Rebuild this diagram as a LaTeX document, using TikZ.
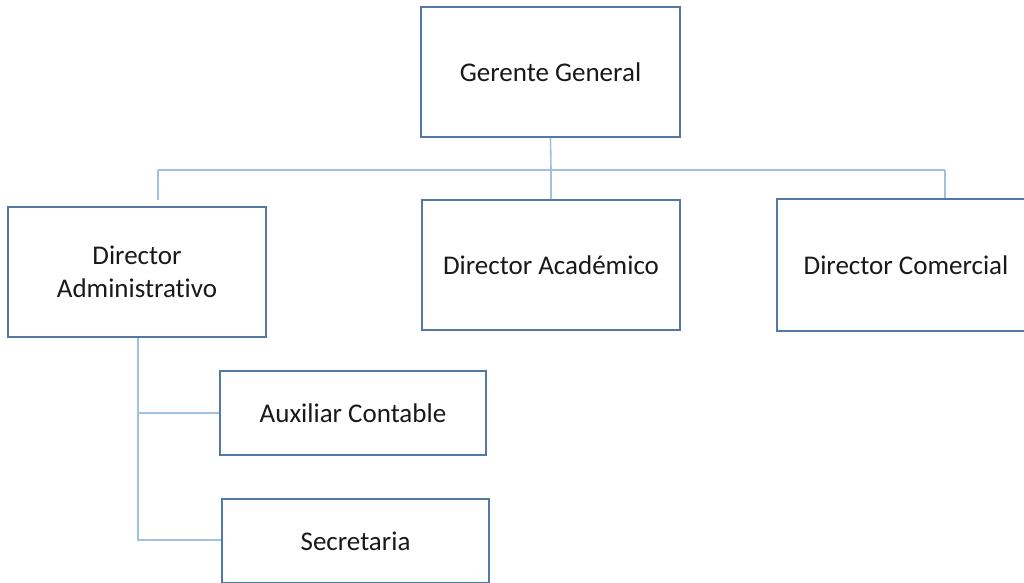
\documentclass[tikz,border=0pt]{standalone}
\usepackage{fontspec}
\setmainfont{Carlito}[Ligatures={NoCommon}]
\definecolor{boxline}{RGB}{84,120,166}
\definecolor{conn}{RGB}{160,192,228}
\definecolor{txt}{RGB}{25,25,25}
\begin{document}
\begin{tikzpicture}[x=1pt,y=-1pt,
  orgbox/.style={draw=boxline, line width=1.8pt, fill=white, text=txt, font=\fontsize{27}{33}\selectfont, align=center, inner sep=0pt},
  conline/.style={draw=conn, line width=1.6pt}]
\useasboundingbox (0,0) rectangle (1024,582);
\begin{scope}
\clip (0,0) rectangle (1024,582);
\coordinate (busL) at (158,170);
\coordinate (busR) at (945,170);
\coordinate (busM) at (551,170);
\node[orgbox, minimum width=259pt, minimum height=130pt] (gg) at (550.5,72) {Gerente General};
\node[orgbox, minimum width=258pt, minimum height=130pt] (da) at (137,272) {Director\\Administrativo};
\node[orgbox, minimum width=258pt, minimum height=130pt] (dac) at (551,265) {Director Académico};
\node[orgbox, minimum width=258pt, minimum height=132pt] (dc) at (906,265) {Director Comercial};
\node[orgbox, minimum width=266pt, minimum height=84pt] (ac) at (353,413) {Auxiliar Contable};
\node[orgbox, minimum width=267pt, minimum height=84pt] (se) at (355.5,541) {Secretaria};
\draw[conline] (gg.south) -- (busM) -- (dac.north);
\draw[conline] (busL) -- (busR);
\draw[conline] (busL) -- (158,200);
\draw[conline] (busR) -- (dc.north -| busR);
\coordinate (vtop) at (138,338);
\coordinate (vbot) at (138,540);
\coordinate (vmid) at (138,413);
\draw[conline] (vtop) -- (vbot) -- (se.west |- vbot);
\draw[conline] (vmid) -- (ac.west);
\end{scope}
\end{tikzpicture}
\end{document}
